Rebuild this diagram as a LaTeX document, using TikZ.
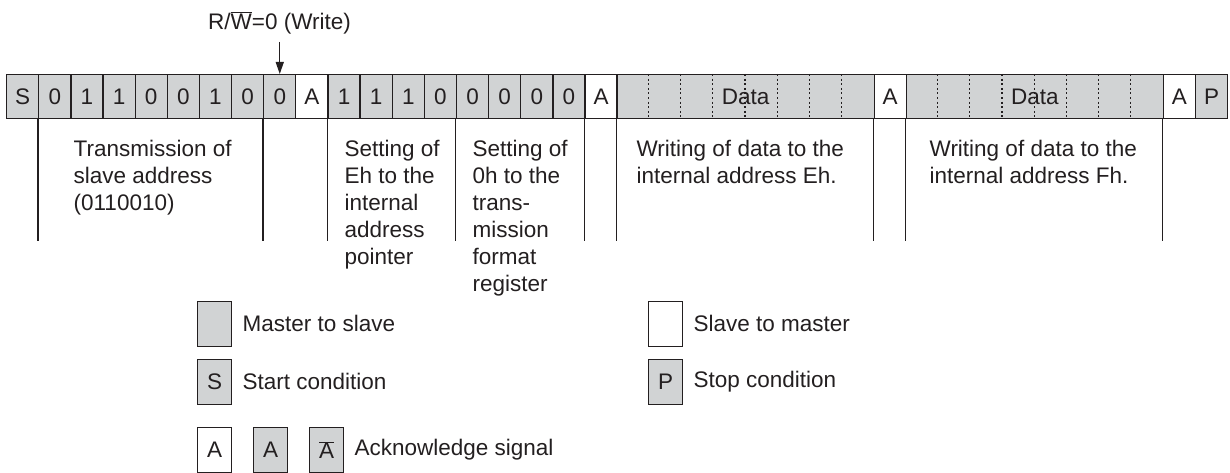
\documentclass[tikz,border=0pt]{standalone}
\usepackage{fontspec}
\setmainfont{Liberation Sans}
\usetikzlibrary{arrows.meta}
\definecolor{cellgray}{RGB}{209,211,212}
\definecolor{ink}{RGB}{35,31,32}
\begin{document}
\begin{tikzpicture}[x=1pt,y=-1pt,line width=1.3pt,
  every node/.style={font=\fontsize{22.5}{27}\selectfont,text=ink},
  cell/.style={draw=ink,fill=cellgray,minimum width=32.13pt,minimum height=44pt,inner sep=0pt,anchor=north west},
  wcell/.style={cell,fill=white},
  lgbox/.style={cell,minimum width=34pt,minimum height=45pt},
  wlgbox/.style={lgbox,fill=white},
  txt/.style={anchor=north west,align=left,inner sep=0pt},
  lgtxt/.style={anchor=west,inner sep=0pt},
  dotsep/.style={draw=ink,line width=1.1pt,dash pattern=on 2pt off 2.6pt},
  brace/.style={draw=ink,line width=1.3pt},
  rwarrow/.style={draw=ink,line width=1.3pt,-{Triangle[length=12pt,width=8pt]}}]
\useasboundingbox (0,0) rectangle (1230,473);
% bit cells
\foreach \t/\s [count=\i from 0] in {S/cell,0/cell,1/cell,1/cell,0/cell,0/cell,1/cell,0/cell,0/cell,A/wcell,1/cell,1/cell,1/cell,0/cell,0/cell,0/cell,0/cell,0/cell,A/wcell}
  \node[\s] (c\i) at ({6+\i*32.13},74) {\t};
\node[cell,minimum width=257.04pt] (d1) at ({6+19*32.13},74) {Data};
\node[wcell] (c27) at ({6+27*32.13},74) {A};
\node[cell,minimum width=257.04pt] (d2) at ({6+28*32.13},74) {Data};
\node[wcell] (c36) at ({6+36*32.13},74) {A};
\node[cell] (c37) at ({6+37*32.13},74) {P};
\foreach \d in {d1,d2}
  \foreach \k in {1,...,7}
    \draw[dotsep] ([xshift=\k*32.13pt]\d.north west) -- ([xshift=\k*32.13pt]\d.south west);
% separators below the frame
\foreach \n in {c1,c8,c10,c14,c18,d1,c27,d2,c36}
  \draw[brace] (\n.south west) -- ++(0,122);
% R/W label and arrow
\node (rw) at (279.5,23) {R/$\overline{\mbox{W}}$=0 (Write)};
\coordinate (as) at (c8.north |- 0,42);
\draw[rwarrow] (as) -- (c8.north);
% descriptions
\node[txt] (t1) at (73,140) {Transmission of\\slave address\\(0110010)};
\node[txt] (t2) at (344,140) {Setting of\\Eh to the\\internal\\address\\pointer};
\node[txt] (t3) at (472,140) {Setting of\\0h to the\\trans-\\mission\\format\\register};
\node[txt] (t4) at (636,140) {Writing of data to the\\internal address Eh.};
\node[txt] (t5) at (929,140) {Writing of data to the\\internal address Fh.};
% legend
\node[lgbox] (lm) at (197,301) {};
\node[lgtxt] (lmt) at (242,323.5) {Master to slave};
\node[lgbox] (ls) at (197,359) {S};
\node[lgtxt] (lst) at (242,381.5) {Start condition};
\node[wlgbox] (la1) at (197,427) {A};
\node[lgbox] (la2) at (253,427) {A};
\node[lgbox] (la3) at (309,427) {$\overline{\mbox{A}}$};
\node[lgtxt] (lat) at (354,449.5) {Acknowledge signal};
\node[wlgbox] (lw) at (648,301) {};
\node[lgtxt] (lwt) at (693,323.5) {Slave to master};
\node[lgbox] (lp) at (648,359) {P};
\node[lgtxt] (lpt) at (693,381.5) {Stop condition};
\end{tikzpicture}
\end{document}
